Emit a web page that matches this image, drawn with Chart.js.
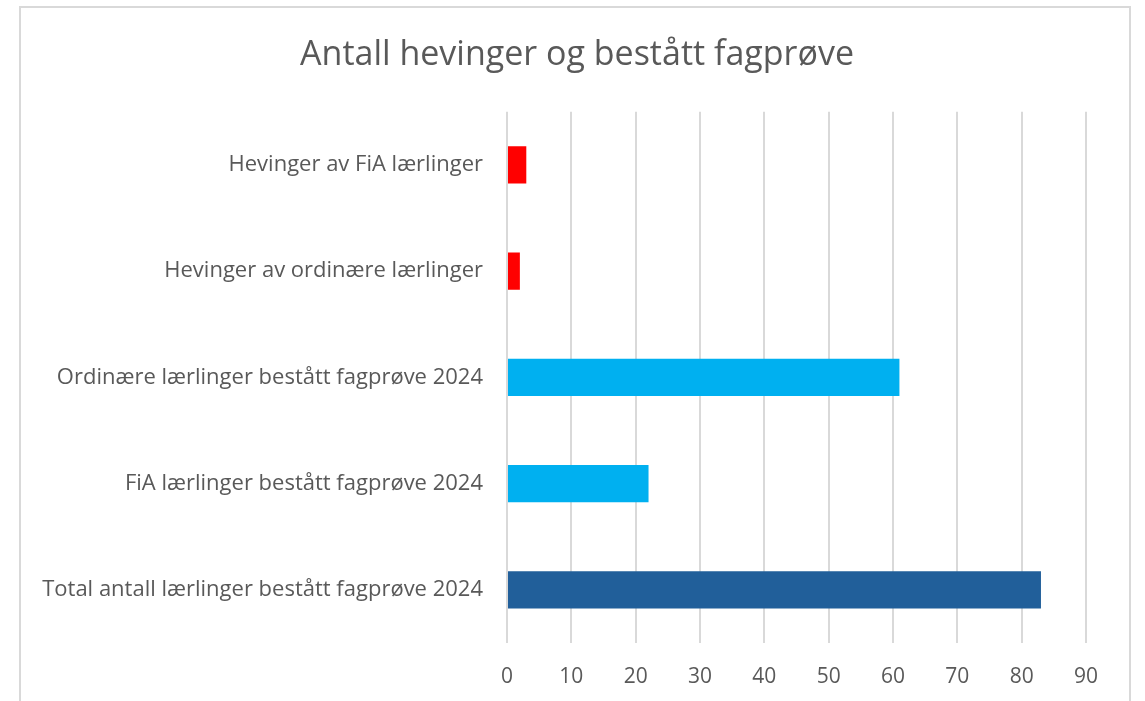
<!DOCTYPE html>
<html>
<head>
<meta charset="utf-8">
<script src="https://cdn.jsdelivr.net/npm/chart.js@4/dist/chart.umd.min.js"></script>
<style>
  html, body { margin: 0; padding: 0; background: #fff; overflow: hidden; }
  #wrap { position: relative; width: 1145px; height: 701px; }
  #frame { position: absolute; left: 19px; top: 6px; width: 1108px; height: 740px;
           border: 2px solid #d9d9d9; pointer-events: none; }
</style>
</head>
<body>
<div id="wrap">
  <canvas id="chart" width="1145" height="701"></canvas>
  <div id="frame"></div>
</div>
<script>
// categories, top to bottom
const categories = [
  'Hevinger av FiA lærlinger',
  'Hevinger av ordinære lærlinger',
  'Ordinære lærlinger bestått fagprøve 2024',
  'FiA lærlinger bestått fagprøve 2024',
  'Total antall lærlinger bestått fagprøve 2024'
];
const values = [3, 2, 61, 22, 83];
const barColors = ['#ff0000', '#ff0000', '#00b0f0', '#00b0f0', '#215f9a'];
const xTicks = [0, 10, 20, 30, 40, 50, 60, 70, 80, 90];

const fontFamily = '"Open Sans", Lato, sans-serif';
const textColor = '#595959';

new Chart(document.getElementById('chart'), {
  type: 'bar',
  data: {
    labels: categories,
    datasets: [{
      data: values,
      backgroundColor: barColors,
      borderWidth: 0,
      barPercentage: 0.7,
      categoryPercentage: 0.5
    }]
  },
  options: {
    indexAxis: 'y',
    responsive: false,
    animation: false,
    layout: { padding: { top: 31, right: 0, bottom: 0, left: 9 } },
    plugins: {
      legend: { display: false },
      tooltip: { enabled: false },
      title: {
        display: true,
        text: 'Antall hevinger og bestått fagprøve',
        color: textColor,
        font: { family: fontFamily, size: 34, weight: 'normal' },
        padding: { top: 4, bottom: 36 }
      }
    },
    scales: {
      x: {
        min: 0,
        max: xTicks[xTicks.length - 1],
        afterBuildTicks: scale => { scale.ticks = xTicks.map(v => ({ value: v })); },
        afterFit: scale => { scale.height = 58; },
        grid: { color: '#d9d9d9', lineWidth: 2, drawTicks: false },
        border: { display: false },
        ticks: { color: textColor, padding: 21, font: { family: fontFamily, size: 21 } }
      },
      y: {
        afterFit: scale => { scale.width = 498; },
        grid: { display: false, drawTicks: false },
        border: { display: false },
        ticks: { color: textColor, padding: 24, font: { family: fontFamily, size: 22 } }
      },
      // empty right gutter so the plot ends at 90 where the reference does
      gutter: {
        position: 'right',
        afterFit: scale => { scale.width = 59; },
        grid: { display: false, drawTicks: false },
        border: { display: false },
        ticks: { display: false }
      }
    }
  }
});
</script>
</body>
</html>
